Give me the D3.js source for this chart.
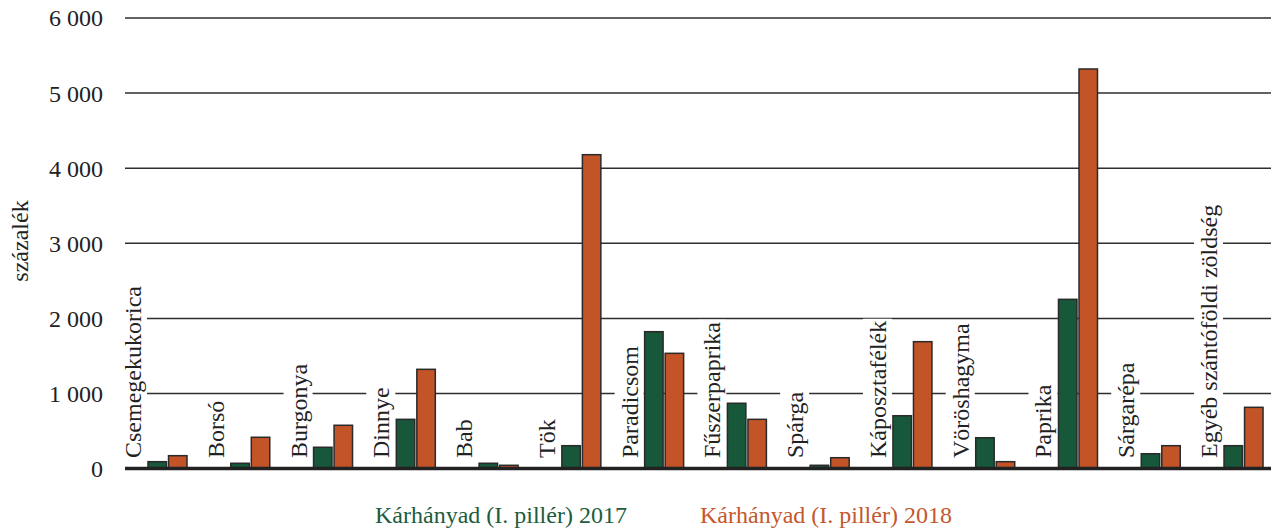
<!DOCTYPE html>
<html>
<head>
<meta charset="utf-8">
<script src="https://cdn.jsdelivr.net/npm/d3@7"></script>
<style>
  html, body { margin: 0; padding: 0; background: #fff; }
  svg { display: block; }
  text { font-family: "Liberation Serif", "Times New Roman", serif; }
</style>
</head>
<body>
<div id="chart"></div>
<script>
const categories = ["Csemegekukorica", "Borsó", "Burgonya", "Dinnye", "Bab", "Tök", "Paradicsom",
  "Fűszerpaprika", "Spárga", "Káposztafélék", "Vöröshagyma", "Paprika", "Sárgarépa", "Egyéb szántóföldi zöldség"];
const values2017 = [92, 71, 284, 656, 71, 305, 1823, 870, 44, 704, 411, 2254, 198, 305];
const values2018 = [172, 417, 577, 1322, 44, 4180, 1535, 656, 145, 1690, 92, 5321, 305, 816];
const seriesNames = ["Kárhányad (I. pillér) 2017", "Kárhányad (I. pillér) 2018"];
const seriesColors = ["#17573a", "#c25428"];
const legendColors = ["#1c5c3c", "#c4582c"];
const yTicks = [0, 1000, 2000, 3000, 4000, 5000, 6000];
const yTitle = "százalék";

const W = 1271, H = 530;
const svg = d3.select("#chart").append("svg").attr("width", W).attr("height", H);

const y = d3.scaleLinear().domain([0, 6000]).range([468.6, 18]);
const x = d3.scaleBand().domain(categories).range([104, 1262.8]).paddingInner(0).paddingOuter(0);
const xs = d3.scaleBand().domain([0, 1]).range([44, 83]).paddingInner(0.1).paddingOuter(0);

const fmt = v => d3.format(",")(v).replace(/,/g, " ");

// gridlines
const gridG = svg.append("g");
gridG.selectAll("line").data(yTicks.filter(t => t !== 0)).join("line")
  .attr("x1", 125).attr("x2", W)
  .attr("y1", d => y(d)).attr("y2", d => y(d))
  .attr("stroke", "#2e2e2e").attr("stroke-width", 1.5);

// tick labels
svg.append("g").selectAll("text").data(yTicks).join("text")
  .attr("x", 103).attr("y", d => y(d)).attr("dy", "0.35em")
  .attr("text-anchor", "end").attr("font-size", 24).attr("fill", "#222")
  .text(d => fmt(d));

// y title
svg.append("text")
  .attr("transform", "translate(28,241) rotate(-90)")
  .attr("text-anchor", "middle").attr("font-size", 24).attr("fill", "#222")
  .text(yTitle);

// category labels with white background
const labG = svg.append("g");
categories.forEach(c => {
  const g = labG.append("g").attr("transform", `translate(${x(c) + 37},458) rotate(-90)`);
  const t = g.append("text").attr("x", 0).attr("y", 0)
    .attr("font-size", 24).attr("fill", "#222").text(c);
  const bb = t.node().getBBox();
  g.insert("rect", "text").attr("x", bb.x - 2).attr("y", bb.y - 2)
    .attr("width", bb.width + 4).attr("height", bb.height + 3).attr("fill", "#fff");
});

// bars
const barsG = svg.append("g");
[values2017, values2018].forEach((vals, si) => {
  barsG.append("g").selectAll("rect").data(categories).join("rect")
    .attr("x", (c) => x(c) + xs(si))
    .attr("width", xs.bandwidth())
    .attr("y", (c, i) => y(vals[i]))
    .attr("height", (c, i) => y(0) - y(vals[i]))
    .attr("fill", seriesColors[si])
    .attr("stroke", "#2a2a2a").attr("stroke-width", 1.5);
});

// zero line
svg.append("line").attr("x1", 125).attr("x2", W).attr("y1", y(0)).attr("y2", y(0))
  .attr("stroke", "#222").attr("stroke-width", 3.5);

// legend
const legendX = [375, 700];
svg.append("g").selectAll("text").data(seriesNames).join("text")
  .attr("x", (d, i) => legendX[i]).attr("y", 523)
  .attr("font-size", 24).attr("fill", (d, i) => legendColors[i])
  .text(d => d);
</script>
</body>
</html>
